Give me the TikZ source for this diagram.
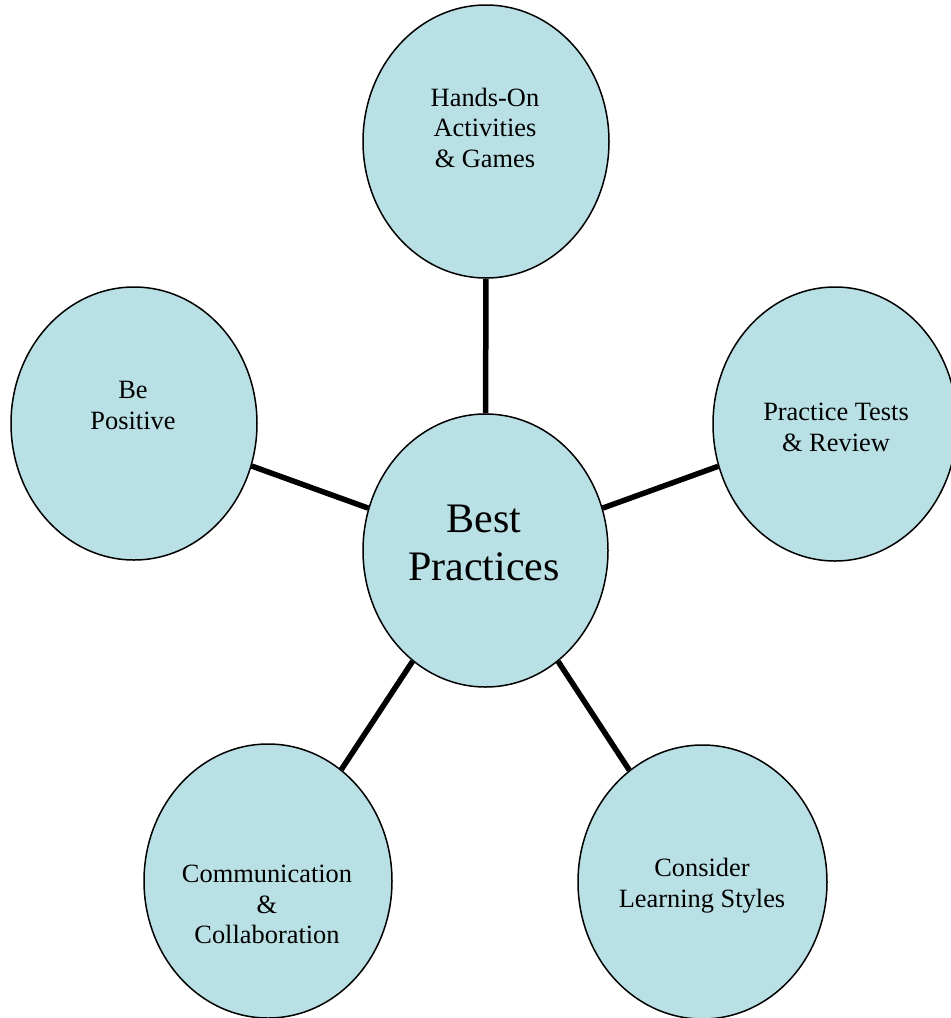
\documentclass[tikz,border=0pt]{standalone}
\usepackage{fontspec}
\setmainfont{Liberation Serif}
\usetikzlibrary{shapes.geometric}
\definecolor{bubble}{RGB}{185,224,228}
\begin{document}
\begin{tikzpicture}[x=1pt,y=-1pt,
  bub/.style={ellipse,draw=black,line width=1.5pt,fill=bubble,inner sep=0pt},
  lbl/.style={font=\fontsize{26.4}{30.5}\selectfont,align=center,inner sep=0pt},
  biglbl/.style={font=\fontsize{42}{48}\selectfont,align=center,inner sep=0pt},
  conn/.style={line width=5.5pt,draw=black}]
\useasboundingbox (0,0) rectangle (951,1018);
\clip (0,0) rectangle (951,1018);
\node[bub,minimum width=245pt,minimum height=273pt] (c) at (485.5,550.5) {};
\node[bub,minimum width=246pt,minimum height=273pt] (t) at (486,141.5) {};
\node[bub,minimum width=246pt,minimum height=273pt] (l) at (134,423.5) {};
\node[bub,minimum width=244pt,minimum height=274pt] (r) at (835,424) {};
\node[bub,minimum width=248pt,minimum height=274pt] (bl) at (268,881) {};
\node[bub,minimum width=249pt,minimum height=274pt] (br) at (702.5,882) {};
\draw[conn] (c) -- (t);
\draw[conn] (c) -- (l);
\draw[conn] (c) -- (r);
\draw[conn] (c) -- (bl);
\draw[conn] (c) -- (br);
\node[biglbl] (tc) at (484,543) {Best\\Practices};
\node[lbl] (tt) at (485,127.5) {Hands-On\\Activities\\\& Games};
\node[lbl] (tl) at (133,405.5) {Be\\Positive};
\node[lbl] (tr) at (836,427.5) {Practice Tests\\\& Review};
\node[lbl] (tbl) at (267,904.5) {Communication\\\&\\Collaboration};
\node[lbl] (tbr) at (702,885.5) {Consider\\Learning Styles};
\end{tikzpicture}
\end{document}
